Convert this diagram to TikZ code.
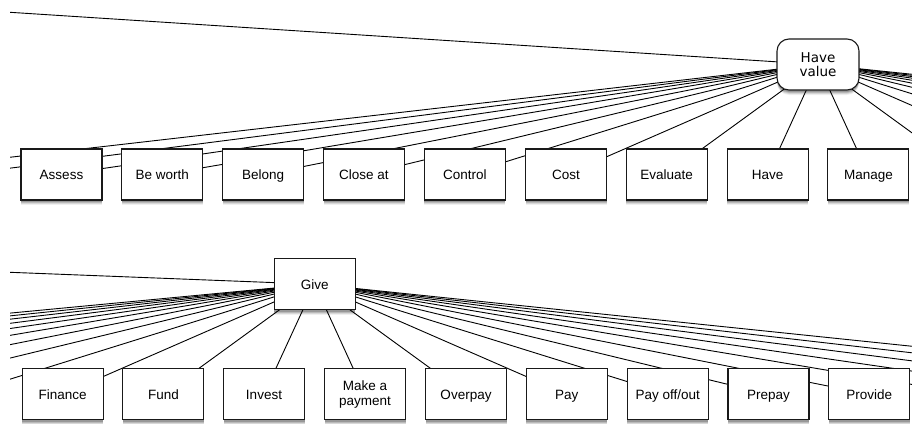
\documentclass[tikz,border=0pt]{standalone}
\usepackage{fontspec}
\setmainfont{Liberation Sans}
\newfontfamily\hubfont{DejaVu Sans}
\usetikzlibrary{shadows}
\pgfdeclarelayer{background}
\pgfsetlayers{background,main}
\begin{document}
\begin{tikzpicture}[x=1pt,y=-1pt,
  softshadow/.style={
    general shadow={shadow xshift=0pt, shadow yshift=-5pt, fill=black, opacity=0.06},
    general shadow={shadow xshift=0pt, shadow yshift=-4pt, fill=black, opacity=0.10},
    general shadow={shadow xshift=0pt, shadow yshift=-3pt, fill=black, opacity=0.14},
    general shadow={shadow xshift=0pt, shadow yshift=-2pt, fill=black, opacity=0.18}},
  box/.style={draw=black!90, line width=1.1pt, fill=white, minimum width=81pt,
    minimum height=51pt, inner sep=0pt, align=center,
    font=\fontsize{13.5}{15}\selectfont, softshadow},
  onebox/.style={box, text height=9.7pt, text depth=0pt},
  hub/.style={box, rounded corners=12pt, minimum width=82pt,
    font=\hubfont\fontsize{13.5}{14.5}\selectfont},
  edge/.style={line width=0.9pt, black}]
\useasboundingbox (0,0) rectangle (912,423);

% hubs
\node[hub] (hv) at (818,64.5) {Have\\value};
\node[onebox] (give) at (314.7,284.2) {Give};

% top row
\node[onebox] (assess)   at (61.5,174.5)  {Assess};
\node[onebox] (beworth)  at (162.3,174.5) {Be worth};
\node[onebox] (belong)   at (263.2,174.5) {Belong};
\node[onebox] (closeat)  at (364.0,174.5) {Close at};
\node[onebox] (control)  at (464.8,174.5) {Control};
\node[onebox] (cost)     at (566.0,174.5) {Cost};
\node[onebox] (evaluate) at (666.7,174.5) {Evaluate};
\node[onebox] (have)     at (767.7,174.5) {Have};
\node[onebox] (manage)   at (868.4,174.5) {Manage};

% bottom row
\node[onebox] (finance)  at (62.7,394.2)  {Finance};
\node[onebox] (fund)     at (163.4,394.2) {Fund};
\node[onebox] (invest)   at (264.0,394.2) {Invest};
\node[box]    (makepay)  at (365.0,394.2) {Make a\\payment};
\node[onebox] (overpay)  at (466.0,394.2) {Overpay};
\node[onebox] (pay)      at (566.8,394.2) {Pay};
\node[onebox] (payoff)   at (667.7,394.2) {Pay off/out};
\node[onebox] (prepay)   at (768.5,394.2) {Prepay};
\node[onebox] (provide)  at (869.3,394.2) {Provide};

% free ends of connectors leaving the frame
\coordinate (hvparent) at (10,12.3);
\coordinate (giveparent) at (10,272.3);
\foreach \k in {1,2} \coordinate (tl\k) at ({61.5-100.85*\k},174.5);
\foreach \k in {1,...,10} \coordinate (tr\k) at ({868.4+100.85*\k},174.5);
\foreach \k in {1,...,9} \coordinate (bl\k) at ({62.7-100.83*\k},394.2);
\foreach \k in {1,...,5} \coordinate (br\k) at ({869.3+100.83*\k},394.2);

\begin{pgfonlayer}{background}
\begin{scope}
\clip (10,0) rectangle (912,423);
\foreach \t in {hvparent,assess,beworth,belong,closeat,control,cost,evaluate,have,manage,
  tl1,tl2,tr1,tr2,tr3,tr4,tr5,tr6,tr7,tr8,tr9,tr10}
  \draw[edge] (hv.center) -- (\t.center);
\foreach \t in {giveparent,finance,fund,invest,makepay,overpay,pay,payoff,prepay,provide,
  bl1,bl2,bl3,bl4,bl5,bl6,bl7,bl8,bl9,br1,br2,br3,br4,br5}
  \draw[edge] (give.center) -- (\t.center);
\end{scope}
\end{pgfonlayer}
\end{tikzpicture}
\end{document}
